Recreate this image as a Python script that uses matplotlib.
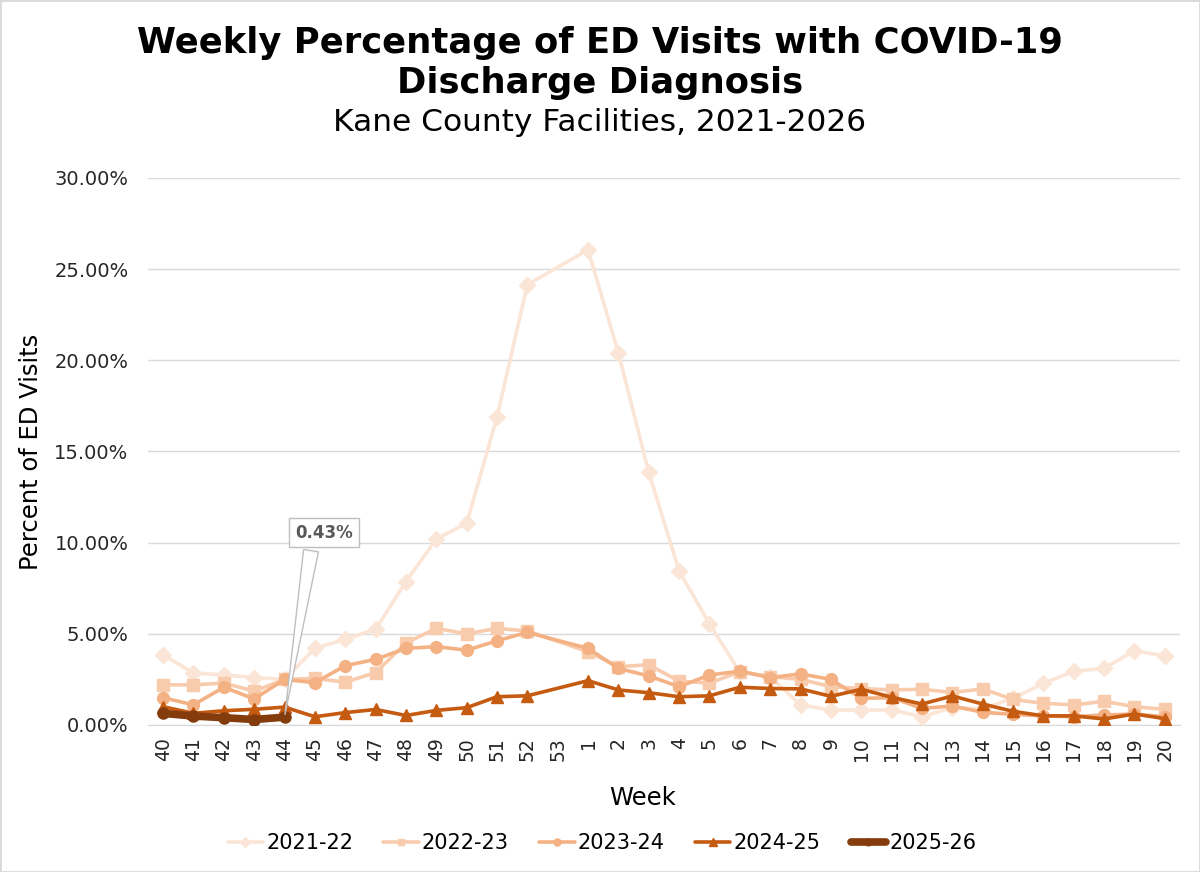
import numpy as np
import matplotlib
matplotlib.use("Agg")
import matplotlib.pyplot as plt
from matplotlib.patches import Rectangle

weeks = [str(w) for w in list(range(40, 54)) + list(range(1, 21))]
nan = np.nan
s2021 = [3.84, 2.85, 2.75, 2.6, 2.5, 4.2, 4.7, 5.25, 7.86, 10.2, 11.06, 16.9, 24.15, nan,
         26.06, 20.4, 13.85, 8.45, 5.55, 2.9, 2.65, 1.1, 0.82, 0.82, 0.82, 0.46, 0.95, 0.9,
         1.46, 2.28, 2.95, 3.1, 4.08, 3.78]
s2022 = [2.2, 2.2, 2.3, 1.85, 2.5, 2.55, 2.35, 2.87, 4.5, 5.3, 5.0, 5.3, 5.15, nan,
         4.02, 3.2, 3.3, 2.4, 2.3, 2.92, 2.65, 2.5, 2.1, 2.0, 1.92, 1.96, 1.78, 1.98,
         1.4, 1.19, 1.1, 1.3, 1.0, 0.86]
s2023 = [1.5, 1.1, 2.07, 1.43, 2.5, 2.32, 3.25, 3.6, 4.2, 4.3, 4.1, 4.62, 5.08, nan,
         4.2, 3.1, 2.69, 2.1, 2.74, 2.95, 2.6, 2.8, 2.5, 1.46, 1.5, 0.91, 1.04, 0.7,
         0.58, 0.5, 0.45, 0.55, 0.6, 0.45]
s2024 = [1.0, 0.64, 0.78, 0.86, 0.98, 0.45, 0.68, 0.85, 0.52, 0.8, 0.95, 1.55, 1.6, nan,
         2.43, 1.92, 1.77, 1.55, 1.6, 2.07, 2.0, 1.98, 1.57, 1.96, 1.52, 1.15, 1.59, 1.15,
         0.75, 0.5, 0.5, 0.33, 0.6, 0.35]
s2025 = [0.64, 0.49, 0.4, 0.3, 0.43]

series = [
    ("2021-22", s2021, "#FBE5D6", "D", 2.6, 8),
    ("2022-23", s2022, "#F8CBAD", "s", 2.6, 8),
    ("2023-24", s2023, "#F4B183", "o", 2.6, 8.5),
    ("2024-25", s2024, "#C55A11", "^", 2.6, 8.5),
    ("2025-26", s2025, "#843C0C", "o", 5.5, 8),
]

plt.rcParams['font.family'] = ['DejaVu Sans']
fig = plt.figure(figsize=(12, 8.72), dpi=100)
ax = fig.add_axes([0.1233, 0.1686, 0.86, 0.6273])

x_all = np.arange(len(weeks))
for name, vals, col, mk, lw, ms in series:
    v = np.array(vals, dtype=float)
    xx = x_all[:len(v)]
    m = ~np.isnan(v)
    ax.plot(xx[m], v[m], color=col, marker=mk, lw=lw, ms=ms, label=name,
            solid_joinstyle='round', solid_capstyle='round', zorder=3)

ax.set_xlim(-0.5, len(weeks) - 0.5)
ax.set_ylim(0, 30)
yt = np.arange(0, 30.1, 5)
ax.set_yticks(yt)
ax.set_yticklabels([f"{t:.2f}%" for t in yt], fontsize=14, color="#262626")
ax.set_xticks(x_all)
ax.set_xticklabels(weeks, rotation=90, fontsize=13.5, color="#262626")
ax.tick_params(axis='y', length=0, pad=14)
ax.tick_params(axis='x', length=0, pad=9)
ax.grid(axis='y', color="#D9D9D9", lw=1)
ax.set_axisbelow(True)
for sp in ['top', 'right', 'left']:
    ax.spines[sp].set_visible(False)
ax.spines['bottom'].set_color("#D9D9D9")

ax.set_ylabel("Percent of ED Visits", fontsize=17.5, color="#000000")
ax.set_xlabel("Week", fontsize=17.5, color="#000000")
ax.yaxis.set_label_coords(-0.102, 0.5)
ax.xaxis.set_label_coords(0.479, -0.112)

fig.text(0.5, 0.951, "Weekly Percentage of ED Visits with COVID-19", ha='center', va='center',
         fontsize=25.5, fontweight='bold')
fig.text(0.5, 0.905, "Discharge Diagnosis", ha='center', va='center',
         fontsize=25.5, fontweight='bold')
fig.text(0.5, 0.859, "Kane County Facilities, 2021-2026", ha='center', va='center',
         fontsize=22.5)

# annotation callout
ax.annotate("0.43%", xy=(4, s2025[4]), xytext=(5.3, 10.55), ha='center', va='center',
            fontsize=12, fontweight='bold', color="#595959",
            bbox=dict(boxstyle='square,pad=0.35', fc='white', ec='#BFBFBF', lw=1),
            arrowprops=dict(arrowstyle='wedge,tail_width=0.9,shrink_factor=0.5', fc='white',
                            ec='#BFBFBF', lw=1, relpos=(0.3, 0.0)), zorder=5)

leg = ax.legend(loc='center', bbox_to_anchor=(0.44, -0.216), ncol=5, frameon=False,
                fontsize=15, handlelength=1.7, handletextpad=0.15, columnspacing=1.45,
                markerscale=0.6)

fig.add_artist(Rectangle((0, 0), 1, 1, transform=fig.transFigure, fill=False,
                         ec="#D9D9D9", lw=2))
fig.savefig("out.png", dpi=100)
